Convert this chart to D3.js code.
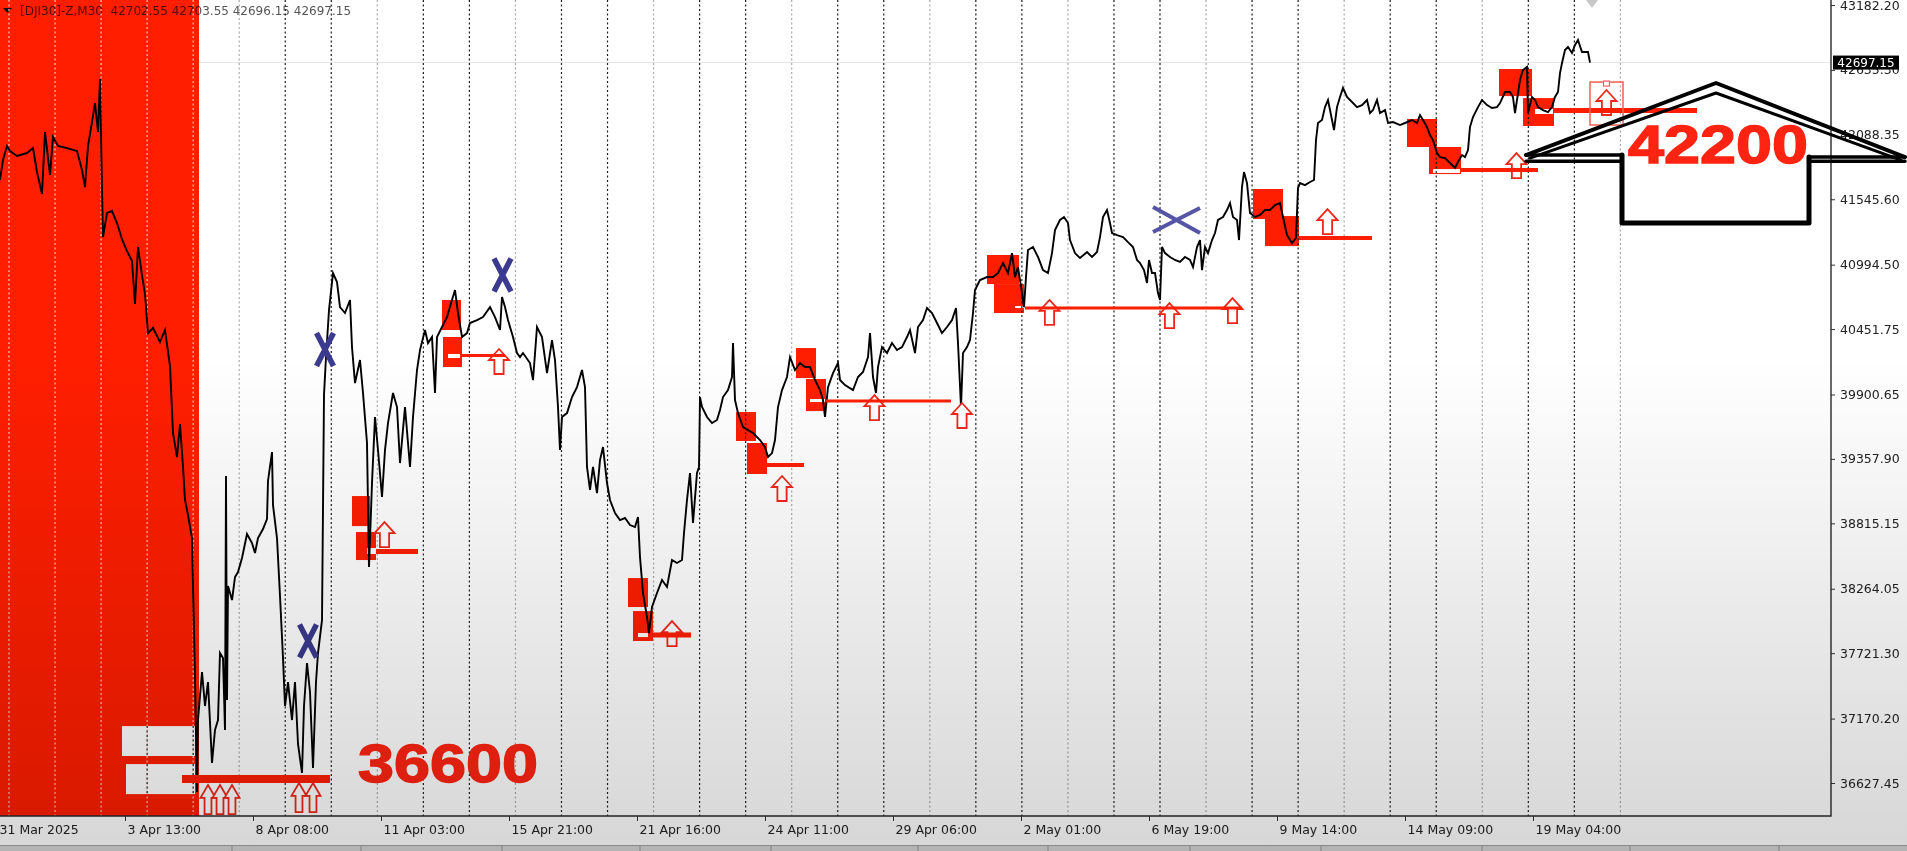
<!DOCTYPE html>
<html><head><meta charset="utf-8">
<script src="https://cdn.jsdelivr.net/npm/d3@7"></script>
<style>html,body{margin:0;padding:0;background:#fff;overflow:hidden}</style>
</head><body>
<svg id="c" width="1907" height="851"></svg>
<script>
// ---------------- DATA ----------------
const headerText = "[DJI30]-Z,M30  42702.55 42703.55 42696.15 42697.15";
const bidPrice = 42697.15;
const bidLabel = "42697.15";

const yTickValues = [43182.20, 42635.30, 42088.35, 41545.60, 40994.50, 40451.75, 39900.65, 39357.90, 38815.15, 38264.05, 37721.30, 37170.20, 36627.45];
const yTickLabels = ["43182.20", "42635.30", "42088.35", "41545.60", "40994.50", "40451.75", "39900.65", "39357.90", "38815.15", "38264.05", "37721.30", "37170.20", "36627.45"];

const xTickBars = [-3, 125, 253, 381, 509, 637, 765, 893, 1021, 1149, 1277, 1405, 1533];
const xTickLabels = ["31 Mar 2025", "3 Apr 13:00", "8 Apr 08:00", "11 Apr 03:00", "15 Apr 21:00", "21 Apr 16:00", "24 Apr 11:00", "29 Apr 06:00", "2 May 01:00", "6 May 19:00", "9 May 14:00", "14 May 09:00", "19 May 04:00"];

// close series: [bar index (M30 bars), close price]
const closeSeries = [[0,41708],[3,41876],[7,41994],[10,41952],[17,41910],[27,41935],[33,41977],[37,41775],[42,41590],[45,42112],[50,41750],[53,42070],[58,41994],[67,41977],[77,41952],[82,41792],[85,41649],[88,41994],[92,42196],[95,42356],[98,42112],[100,42558],[102,41632],[103,41227],[107,41430],[112,41446],[117,41345],[122,41210],[127,41109],[132,41025],[135,40663],[138,41143],[142,40907],[145,40747],[148,40418],[153,40461],[160,40343],[165,40444],[170,40140],[173,39576],[177,39374],[180,39652],[183,39290],[185,39012],[188,38885],[192,38691],[193,38287],[195,37520],[197,36551],[198,37158],[202,37562],[205,37276],[208,37478],[212,36796],[215,37074],[218,37158],[220,37722],[223,37680],[225,37074],[226,39214],[227,37326],[228,38287],[232,38169],[235,38363],[238,38405],[242,38523],[247,38725],[252,38649],[255,38565],[258,38691],[263,38767],[267,38851],[268,39172],[272,39416],[273,38969],[277,38691],[280,38203],[283,37680],[285,37276],[288,37478],[292,37158],[295,37478],[298,36956],[302,36712],[304,37276],[307,37638],[310,37394],[313,36754],[316,37478],[318,37722],[322,38000],[324,39896],[326,40216],[329,40612],[333,40924],[337,40848],[340,40637],[345,40587],[350,40696],[352,40300],[355,39997],[360,40191],[363,39913],[367,39492],[369,38447],[372,39155],[375,39711],[378,39433],[382,39037],[385,39433],[388,39660],[393,39913],[397,39795],[400,39323],[405,39795],[410,39290],[413,39711],[417,40107],[420,40275],[425,40444],[428,40334],[432,40385],[435,39913],[437,40385],[442,40469],[447,40553],[452,40697],[455,40781],[458,40587],[462,40385],[467,40418],[470,40503],[477,40528],[483,40553],[490,40637],[495,40553],[500,40444],[502,40722],[505,40637],[508,40528],[513,40385],[517,40250],[520,40216],[523,40250],[530,40166],[533,40022],[537,40469],[542,40385],[547,40081],[552,40359],[555,40191],[558,39795],[560,39433],[562,39711],[567,39744],[572,39879],[577,39963],[582,40107],[585,39963],[587,39290],[590,39096],[593,39290],[597,39070],[600,39348],[603,39458],[607,39155],[610,39012],[615,38902],[620,38843],[625,38860],[630,38801],[635,38784],[638,38868],[640,38531],[643,38228],[647,38026],[649,37891],[652,38110],[657,38228],[662,38338],[667,38279],[672,38506],[677,38481],[682,38506],[684,38734],[687,39012],[690,39239],[693,38818],[697,39239],[699,39290],[700,39879],[702,39795],[707,39711],[712,39660],[717,39686],[720,39770],[723,39879],[728,39938],[732,40048],[733,40334],[735,39854],[738,39744],[743,39626],[748,39601],[753,39576],[760,39517],[765,39458],[768,39374],[772,39407],[775,39517],[778,39795],[782,39938],[787,40048],[790,40216],[795,40107],[800,40166],[805,40132],[810,40132],[815,40023],[820,39938],[823,39854],[825,39711],[828,39963],[833,40081],[838,40166],[840,40023],[845,39980],[853,39938],[858,40048],[863,40090],[868,40216],[870,40418],[873,40048],[876,39913],[878,40132],[882,40300],[887,40250],[892,40334],[897,40275],[902,40300],[907,40385],[910,40444],[915,40250],[918,40469],[923,40528],[927,40629],[932,40587],[937,40503],[942,40418],[947,40469],[952,40528],[956,40629],[958,40334],[961,39795],[963,40250],[967,40300],[970,40360],[973,40587],[975,40781],[980,40865],[987,40890],[993,40890],[998,40924],[1003,41008],[1008,40924],[1012,41092],[1015,40890],[1018,40974],[1022,40755],[1024,40637],[1026,40890],[1028,41118],[1033,41143],[1038,41059],[1043,40949],[1048,40924],[1052,41092],[1055,41286],[1060,41371],[1064,41396],[1068,41345],[1070,41202],[1075,41092],[1080,41050],[1087,41101],[1092,41059],[1097,41101],[1100,41227],[1103,41396],[1107,41455],[1110,41345],[1112,41261],[1117,41244],[1123,41227],[1128,41185],[1133,41143],[1137,41034],[1140,41008],[1144,40949],[1147,40840],[1149,41034],[1152,40924],[1155,40924],[1158,40755],[1160,40697],[1162,41143],[1165,41092],[1170,41059],[1175,41034],[1180,41017],[1185,41059],[1190,41034],[1193,40974],[1197,41143],[1200,41202],[1202,40949],[1205,41143],[1208,41092],[1212,41202],[1215,41261],[1218,41371],[1223,41396],[1227,41455],[1230,41514],[1233,41396],[1237,41371],[1239,41202],[1242,41649],[1244,41775],[1247,41682],[1250,41430],[1255,41396],[1260,41413],[1265,41455],[1270,41455],[1275,41497],[1280,41514],[1283,41396],[1287,41244],[1292,41177],[1296,41219],[1298,41640],[1300,41682],[1305,41665],[1310,41691],[1314,41708],[1316,42045],[1318,42188],[1322,42213],[1325,42322],[1328,42382],[1332,42213],[1334,42129],[1337,42322],[1340,42407],[1343,42483],[1347,42407],[1352,42365],[1357,42322],[1362,42339],[1367,42382],[1370,42272],[1373,42297],[1377,42382],[1380,42272],[1385,42297],[1388,42188],[1393,42196],[1400,42171],[1405,42188],[1412,42213],[1417,42188],[1420,42255],[1423,42213],[1427,42154],[1430,42087],[1433,42045],[1437,41935],[1440,41901],[1445,41893],[1450,41851],[1455,41809],[1458,41859],[1462,41918],[1465,41901],[1468,41960],[1470,42154],[1473,42238],[1478,42322],[1482,42382],[1487,42339],[1492,42314],[1497,42322],[1500,42356],[1505,42449],[1510,42449],[1513,42407],[1515,42272],[1517,42382],[1520,42550],[1523,42634],[1527,42660],[1528,42272],[1532,42407],[1535,42382],[1538,42322],[1543,42297],[1548,42280],[1552,42322],[1555,42407],[1558,42449],[1560,42609],[1562,42693],[1565,42803],[1568,42828],[1572,42778],[1575,42845],[1578,42887],[1582,42786],[1585,42786],[1588,42786],[1590,42697]];

// shaded (red) period, in bars
const shadedBars = [-40, 199];

// red zones: bar range and price range [top, bottom]
const zoneBars = [[352,370],[356,376],[442,461],[443,462],[628,648],[633,653],[736,756],[747,767],[796,816],[806,826],[987,1019],[994,1024],[1253,1283],[1265,1299],[1407,1437],[1429,1461],[1499,1532],[1523,1554]];
const zonePrices = [[39045,38792],[38742,38506],[40697,40444],[40385,40132],[38354,38110],[38076,37824],[39753,39509],[39492,39231],[40292,40039],[40031,39761],[41076,40831],[40831,40587],[41632,41379],[41404,41151],[42222,41986],[41986,41758],[42643,42415],[42398,42163]];

// white inner gaps inside zones
const gapBars = [[122,195],[126,195],[367,376],[448,460],[638,648],[810,825],[1015,1025],[1433,1460],[1535,1553]];
const gapPrices = [[37107,36855],[36787,36534],[38607,38557],[40242,40208],[37891,37857],[39863,39837],[40646,40629],[41800,41767],[42306,42264]];

// horizontal support levels
const levelBars = [[182,330],[376,418],[462,505],[653,691],[767,804],[826,951],[1025,1242],[1299,1372],[1461,1538],[1554,1697]];
const levelPrices = [36661, 38578, 40229, 37874, 39306, 39846, 40629, 41219, 41792, 42293];

// up-arrow signals (bar, tip price)
const lowArrowBars = [208, 220, 232, 299, 313];
const lowArrowPrices = [36610, 36610, 36610, 36627, 36627];
const arrowBars = [384.5, 499, 672, 782, 874.5, 962, 1049.5, 1169.5, 1232.5, 1327.5, 1516.5, 1606.5];
const arrowPrices = [38826, 40284, 37992, 39214, 39896, 39829, 40697, 40671, 40713, 41463, 41935, 42466];

// pending signal frame
const frameBars = [1590, 1623];
const framePrices = [42533, 42171];

// X marks (bar, price)
const crossBars = [325, 308, 502.5];
const crossPrices = [40280, 37824, 40907];
const bigCrossBar = 1176.5, bigCrossPrice = 41371;

// annotations
const noteTexts = ["36600", "42200"];
const noteBars = [358, 1628];
const notePrices = [36636, 41851];

// hand-drawn big arrow (bar, price)
const bigArrowApex = [1716, 42525];
const bigArrowApexInner = [1716, 42441];
const bigArrowLeft = [1526, 41918];
const bigArrowRight = [1905, 41901];
const bigArrowShaft = [1622, 1809];
const bigArrowBaseLow = 41866;
const bigArrowBottom = 41345;

// ---------------- STYLE / LAYOUT ----------------
const W = 1907, H = 851, PLOT_R = 1831, PLOT_B = 816;
const RED = "#ff1e00";
const svg = d3.select("#c");
const x = d3.scaleLinear().domain([0, 1831]).range([0, 1831]);
const y = d3.scaleLinear().domain([36627.45, 43182.20]).range([783, 5]);

const defs = svg.append("defs");
defs.append("clipPath").attr("id", "plot").append("rect").attr("x", 0).attr("y", 0).attr("width", PLOT_R).attr("height", PLOT_B);
const grad = defs.append("linearGradient").attr("id", "shade").attr("x1", 0).attr("y1", 0).attr("x2", 0).attr("y2", 1);
grad.append("stop").attr("offset", "0%").attr("stop-color", "#000").attr("stop-opacity", 0);
grad.append("stop").attr("offset", "42%").attr("stop-color", "#000").attr("stop-opacity", 0);
grad.append("stop").attr("offset", "100%").attr("stop-color", "#000").attr("stop-opacity", 0.16);

svg.append("rect").attr("width", W).attr("height", H).attr("fill", "#fff");

// red shaded period
const shadeX0 = Math.max(0, x(shadedBars[0]));
svg.append("rect").attr("x", shadeX0).attr("y", 0)
  .attr("width", x(shadedBars[1]) - shadeX0).attr("height", PLOT_B)
  .attr("fill", RED);

// header (multiplied so it darkens over the red band)
svg.append("path").attr("d", "M3,8L12,8L7.5,13Z").attr("fill", "#111");
svg.append("text").attr("x", 20).attr("y", 15).attr("font-family", "DejaVu Sans").attr("font-size", 12)
  .attr("fill", "#555").style("mix-blend-mode", "multiply").style("white-space", "pre").text(headerText);

const plot = svg.append("g").attr("clip-path", "url(#plot)");

// bid line (right of the shaded period)
plot.append("line").attr("x1", x(shadedBars[1])).attr("x2", PLOT_R).attr("y1", y(bidPrice)).attr("y2", y(bidPrice))
  .attr("stroke", "#e4e4e4").attr("stroke-width", 1);

// zones
plot.selectAll("rect.zone").data(zoneBars).enter().append("rect").attr("class", "zone")
  .attr("x", d => x(d[0])).attr("width", d => x(d[1]) - x(d[0]))
  .attr("y", (d, i) => y(zonePrices[i][0])).attr("height", (d, i) => y(zonePrices[i][1]) - y(zonePrices[i][0]))
  .attr("fill", RED);
plot.selectAll("rect.gap").data(gapBars).enter().append("rect").attr("class", "gap")
  .attr("x", d => x(d[0])).attr("width", d => x(d[1]) - x(d[0]))
  .attr("y", (d, i) => y(gapPrices[i][0])).attr("height", (d, i) => y(gapPrices[i][1]) - y(gapPrices[i][0]))
  .attr("fill", "#fff");

// day separators
const sepBars = d3.range(36).map(k => 9 + k * 46.04);
sepBars.forEach((b, k) => {
  const px = x(b);
  const inRed = b < shadedBars[1];
  plot.append("line").attr("x1", px).attr("x2", px).attr("y1", 0).attr("y2", PLOT_B)
    .attr("stroke", inRed ? "#ffc4b8" : (k % 3 === 2 ? "#a9a9a9" : "#1c1c1c"))
    .attr("stroke-width", 1.2).attr("stroke-dasharray", "2,2.5");
  if (inRed) {
    gapBars.forEach((g, gi) => {
      if (b >= g[0] && b <= g[1]) {
        plot.append("line").attr("x1", px).attr("x2", px).attr("y1", y(gapPrices[gi][0])).attr("y2", y(gapPrices[gi][1]))
          .attr("stroke", "#1c1c1c").attr("stroke-width", 1.2).attr("stroke-dasharray", "2,2.5");
      }
    });
  }
});

// price line
plot.append("path").datum(closeSeries)
  .attr("d", d3.line().x(d => x(d[0])).y(d => y(d[1])))
  .attr("fill", "none").attr("stroke", "#000").attr("stroke-width", 1.9).attr("stroke-linejoin", "miter");

// arrows
function upArrow(cx, ty, w, h) {
  const hh = h * 0.44, sw = w * 0.23;
  return `M${cx},${ty}L${cx + w / 2},${ty + hh}L${cx + sw},${ty + hh}L${cx + sw},${ty + h}L${cx - sw},${ty + h}L${cx - sw},${ty + hh}L${cx - w / 2},${ty + hh}Z`;
}
plot.selectAll("path.la").data(lowArrowBars).enter().append("path").attr("class", "la")
  .attr("d", (d, i) => upArrow(x(d), y(lowArrowPrices[i]), 15, 29))
  .attr("fill", "#fff").attr("stroke", "#f0261a").attr("stroke-width", 1.8);
plot.selectAll("path.ar").data(arrowBars).enter().append("path").attr("class", "ar")
  .attr("d", (d, i) => upArrow(x(d), y(arrowPrices[i]), 20, 25))
  .attr("fill", "#fff").attr("stroke", "#f0261a").attr("stroke-width", 1.8);

// levels
const levelWidths = [8, 5, 3, 5, 4, 3, 3, 4, 4, 5];
plot.selectAll("line.lv").data(levelBars).enter().append("line").attr("class", "lv")
  .attr("x1", d => x(d[0])).attr("x2", d => x(d[1]))
  .attr("y1", (d, i) => y(levelPrices[i])).attr("y2", (d, i) => y(levelPrices[i]))
  .attr("stroke", RED).attr("stroke-width", (d, i) => levelWidths[i]);

// pending frame
plot.append("rect").attr("x", x(frameBars[0])).attr("y", y(framePrices[0]))
  .attr("width", x(frameBars[1]) - x(frameBars[0])).attr("height", y(framePrices[1]) - y(framePrices[0]))
  .attr("fill", "none").attr("stroke", "#f26052").attr("stroke-width", 1.5);
plot.append("rect").attr("x", (x(frameBars[0]) + x(frameBars[1])) / 2 - 3).attr("y", y(framePrices[0]) - 1)
  .attr("width", 6).attr("height", 5).attr("fill", "#fff").attr("stroke", "#f26052").attr("stroke-width", 1.2);

// X marks
crossBars.forEach((b, i) => {
  const cx = x(b), cy = y(crossPrices[i]), a = 8.5, h = 16.5;
  svg.append("path").attr("d", `M${cx - a},${cy - h}L${cx + a},${cy + h}M${cx + a},${cy - h}L${cx - a},${cy + h}`)
    .attr("stroke", "#3b3a8e").attr("stroke-width", 5.5).attr("fill", "none");
});
{
  const cx = x(bigCrossBar), cy = y(bigCrossPrice);
  svg.append("path").attr("d", `M${cx - 23.5},${cy - 13}L${cx + 23.5},${cy + 13}M${cx + 23.5},${cy - 12}L${cx - 23.5},${cy + 12}`)
    .attr("stroke", "#5654a6").attr("stroke-width", 4).attr("fill", "none");
}

// y axis
const gy = svg.append("g").attr("transform", `translate(${PLOT_R},0)`)
  .call(d3.axisRight(y).tickValues(yTickValues).tickFormat((d, i) => yTickLabels[i]).tickSize(4).tickPadding(5));
gy.select(".domain").remove();
gy.selectAll("line").attr("stroke", "#333");
gy.selectAll("text").attr("font-family", "DejaVu Sans").attr("font-size", 12.5).attr("fill", "#222");

// x axis
const gx = svg.append("g").attr("transform", `translate(0,${PLOT_B})`)
  .call(d3.axisBottom(x).tickValues(xTickBars).tickFormat((d, i) => xTickLabels[i]).tickSize(5).tickPadding(4));
gx.select(".domain").remove();
gx.selectAll("line").attr("stroke", "#333");
gx.selectAll("text").attr("text-anchor", "start").attr("dx", 2)
  .attr("font-family", "DejaVu Sans").attr("font-size", 12.5).attr("fill", "#222");

// frame lines
svg.append("path").attr("d", `M${PLOT_R},0V${PLOT_B}H0`).attr("fill", "none").attr("stroke", "#2a2a2a").attr("stroke-width", 1.4);

// chart shift marker
svg.append("path").attr("d", "M1586,0L1598,0L1592,8Z").attr("fill", "#c8c8c8");

// annotations text
noteTexts.forEach((t, i) => {
  svg.append("text").attr("x", x(noteBars[i])).attr("y", y(notePrices[i]))
    .attr("font-family", "Liberation Sans").attr("font-weight", "bold").attr("font-size", 53)
    .attr("textLength", 180).attr("lengthAdjust", "spacingAndGlyphs")
    .attr("fill", "#ff2412").attr("stroke", "#ff2412").attr("stroke-width", 1.4).text(t);
});

// big hand-drawn arrow
{
  const L = [x(bigArrowLeft[0]), y(bigArrowLeft[1])];
  const A = [x(bigArrowApex[0]), y(bigArrowApex[1])];
  const Ai = [x(bigArrowApexInner[0]), y(bigArrowApexInner[1])];
  const R = [x(bigArrowRight[0]), y(bigArrowRight[1])];
  const s0 = x(bigArrowShaft[0]), s1 = x(bigArrowShaft[1]);
  const yb = y(bigArrowBottom), yl = y(bigArrowBaseLow);
  const g = svg.append("g").attr("fill", "none").attr("stroke", "#000").attr("stroke-linejoin", "round").attr("stroke-linecap", "round");
  g.append("path").attr("d", `M${L[0]},${L[1]}L${A[0]},${A[1]}L${R[0]},${R[1]}`).attr("stroke-width", 4);
  g.append("path").attr("d", `M${L[0] + 4},${L[1] + 3}L${Ai[0]},${Ai[1]}L${R[0] - 4},${R[1] + 3}`).attr("stroke-width", 3);
  g.append("path").attr("d", `M${L[0]},${L[1]}H${s0}M${L[0]},${yl}H${s0}M${s1},${R[1]}H${R[0]}M${s1},${yl}H${R[0]}`).attr("stroke-width", 3.5);
  g.append("path").attr("d", `M${s0},${L[1]}V${yb}H${s1}V${R[1]}`).attr("stroke-width", 5);
}

// bid tag
svg.append("rect").attr("x", 1833).attr("y", y(bidPrice) - 7).attr("width", 66).attr("height", 14).attr("fill", "#000");
svg.append("text").attr("x", 1866).attr("y", y(bidPrice) + 4.5).attr("text-anchor", "middle")
  .attr("font-family", "DejaVu Sans").attr("font-size", 12).attr("fill", "#fff").text(bidLabel);

// bottom tab strip
svg.append("line").attr("x1", 0).attr("x2", W).attr("y1", 845.5).attr("y2", 845.5).attr("stroke", "#a4a4a4");
svg.append("rect").attr("x", 0).attr("y", 846).attr("width", W).attr("height", 5).attr("fill", "#d6d6d6");
[232, 361, 502, 640, 771, 918, 1048, 1190, 1321, 1482, 1630, 1779].forEach(px => {
  svg.append("line").attr("x1", px).attr("x2", px).attr("y1", 846).attr("y2", 851).attr("stroke", "#9a9a9a");
});

// video shading overlay
svg.append("rect").attr("width", W).attr("height", H).attr("fill", "url(#shade)").style("pointer-events", "none");
</script>
</body></html>
